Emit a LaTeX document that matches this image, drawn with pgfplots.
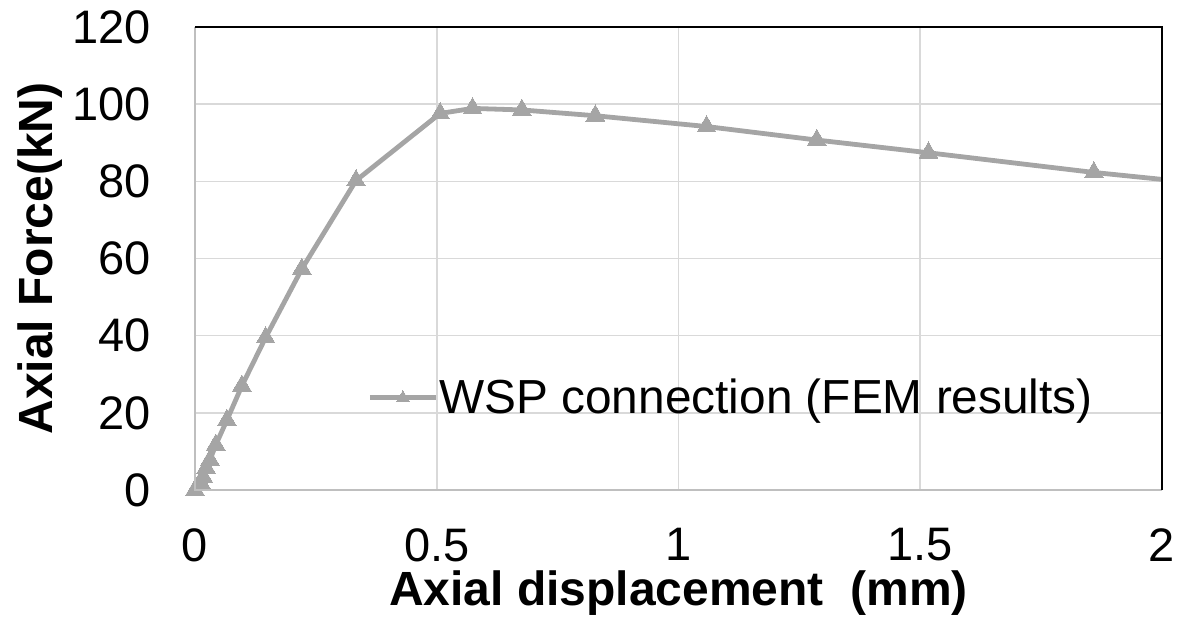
\documentclass[border=0pt]{standalone}
\usepackage{pgfplots}
\pgfplotsset{compat=1.18}
\usepackage{fontspec}
\setmainfont{Liberation Sans}
\definecolor{linegray}{HTML}{A5A5A5}
\definecolor{gridgray}{HTML}{D9D9D9}
\definecolor{axisgray}{HTML}{BFBFBF}
\begin{document}
\begin{tikzpicture}
\begin{axis}[
  scale only axis,
  width=483.5pt, height=231.5pt,
  xmin=0, xmax=2, ymin=0, ymax=120,
  xtick={0,0.5,1,1.5,2},
  ytick={0,20,40,60,80,100,120},
  grid=major,
  major grid style={gridgray, line width=0.8pt},
  axis line style={draw=none},
  tick style={draw=none},
  /pgf/number format/assume math mode=true,
  ticklabel style={font=\fontsize{23.5}{28}\selectfont},
  yticklabel style={inner sep=0pt, xshift=-22pt},
  xticklabel style={inner sep=0pt, yshift=-19pt},
  xlabel={\textbf{Axial displacement\ \ (mm)}},
  ylabel={\textbf{Axial Force(kN)}},
  label style={font=\fontsize{24}{28}\selectfont},
  xlabel style={at={(axis description cs:0.5,-0.222)}, anchor=center, inner sep=0pt},
  ylabel style={at={(axis description cs:-0.160,0.5)}, anchor=center, inner sep=0pt},
  legend style={at={(axis description cs:0.178,0.199)}, anchor=west, draw=none, fill=none,
    font=\fontsize{23.9}{28}\selectfont, inner sep=0pt, column sep=0pt,
    nodes={inner sep=0.5pt},
    /tikz/every even column/.append style={column sep=0pt}},
  legend cell align=left,
  legend image code/.code={%
    \draw[mark=none] (0pt,0pt) -- (33pt,0pt);
    \draw[only marks, mark size=3.6pt] plot coordinates {(16.5pt,0pt)};},
]
\addplot[color=linegray, line width=2.4pt, mark=triangle*, mark size=5.4pt,
  mark options={fill=linegray, draw=linegray, line width=0pt},
  mark indices={1,2,3,4,5,6,7,8,9,10,11,12,13,14,15,16,17,18,19}]
coordinates {
(0.000,0.0) (0.012,1.8) (0.017,3.4) (0.023,5.7) (0.031,7.8) (0.043,11.7)
(0.066,18.1) (0.097,27.0) (0.146,39.5) (0.221,57.3) (0.333,80.2)
(0.507,97.6) (0.574,98.9) (0.676,98.5) (0.828,97.0) (1.058,94.2)
(1.286,90.7) (1.517,87.4) (1.859,82.3) (2.000,80.5)
};
\addlegendentry{WSP connection (FEM results)}
\end{axis}
\draw[axisgray, line width=0.8pt] (current axis.north west) -- (current axis.south west) -- (current axis.south east);
\draw[black, line width=0.8pt] (current axis.north west) -- (current axis.north east) -- (current axis.south east);
\pgfresetboundingbox
\path ([shift={(-97.5pt,-67.5pt)}]current axis.south west) rectangle ([shift={(16pt,13.5pt)}]current axis.north east);
\end{tikzpicture}
\end{document}
